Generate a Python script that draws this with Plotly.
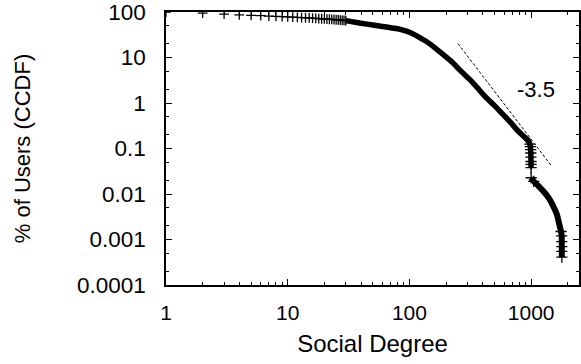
import plotly.graph_objects as go

# ---- data (degree, % of users CCDF) ----
head_deg = list(range(1, 31))
head_ccdf = [100, 95, 90, 87, 85, 83.5, 82, 81, 80, 79,
             78, 77, 76, 75.2, 74.5, 73.8, 73, 72.3, 71.6, 71,
             70.4, 69.8, 69.2, 68.6, 68, 67.4, 66.8, 66.2, 65.6, 65]

body_deg = [30, 40, 50, 60, 70, 80, 90, 100, 110, 120, 135, 150, 164, 190, 225, 260,
            308, 360, 421, 500, 576, 680, 789, 880, 952, 975, 985, 990,
            993, 995, 997, 998, 999]
body_ccdf = [65, 57, 52, 48.5, 45.5, 43, 39.5, 36, 32, 28, 23.5, 19.3, 16, 11.6, 7.94, 5.3,
             3.44, 2.2, 1.37, 0.88, 0.593, 0.37, 0.237, 0.18, 0.144, 0.125, 0.11, 0.095,
             0.08, 0.065, 0.052, 0.045, 0.038]

tail_deg = [1000, 1050, 1100, 1150, 1250, 1388, 1500, 1622, 1700, 1760,
            1782, 1784, 1785, 1786, 1787]
tail_ccdf = [0.0228, 0.019, 0.0168, 0.015, 0.0118, 0.00835, 0.0058, 0.00363, 0.0022, 0.0015,
             0.0012, 0.0009, 0.0007, 0.00055, 0.00041]

fit_deg = [250, 1455]
fit_ccdf = [20.4, 0.043]
slope_label = "-3.5"

x_tick_vals = [1, 10, 100, 1000]
x_tick_text = ["1", "10", "100", "1000"]
y_tick_vals = [0.0001, 0.001, 0.01, 0.1, 1, 10, 100]
y_tick_text = ["0.0001", "0.001", "0.01", "0.1", "1", "10", "100"]

FONT = "Liberation Sans, Arial, Helvetica, sans-serif"

marker = dict(symbol="cross-thin", size=7, line=dict(color="black", width=1.3), color="black")

# points on the near-vertical drops, where the individual markers show
drop_deg = body_deg[-8:] + tail_deg[:2] + tail_deg[-6:]
drop_ccdf = body_ccdf[-8:] + tail_ccdf[:2] + tail_ccdf[-6:]

fig = go.Figure()
fig.add_trace(go.Scatter(x=head_deg, y=head_ccdf, mode="markers", marker=marker,
                         showlegend=False, hoverinfo="skip"))
fig.add_trace(go.Scatter(x=body_deg, y=body_ccdf, mode="lines",
                         line=dict(color="black", width=5.5, shape="spline", smoothing=0.6),
                         showlegend=False, hoverinfo="skip"))
fig.add_trace(go.Scatter(x=tail_deg, y=tail_ccdf, mode="lines",
                         line=dict(color="black", width=6, shape="spline", smoothing=0.6),
                         showlegend=False, hoverinfo="skip"))
fig.add_trace(go.Scatter(x=drop_deg, y=drop_ccdf, mode="markers",
                         marker=dict(symbol="cross-thin", size=8, line=dict(color="black", width=1.3)),
                         showlegend=False, hoverinfo="skip"))
fig.add_trace(go.Scatter(x=fit_deg, y=fit_ccdf, mode="lines",
                         line=dict(color="black", width=1, dash="3px,2px"),
                         showlegend=False, hoverinfo="skip"))

fig.add_annotation(x=3.04, y=0.29, xref="x", yref="y", text=slope_label, showarrow=False,
                   font=dict(family=FONT, size=22, color="black"))

x_minor = [m * 10 ** e for e in range(0, 4) for m in range(2, 10)]
y_minor = [m * 10 ** e for e in range(-4, 2) for m in (2, 5)]

fig.update_layout(
    width=581, height=364,
    margin=dict(l=166, r=0, t=9, b=79),
    paper_bgcolor="white", plot_bgcolor="white",
    font=dict(family=FONT, size=21, color="black"),
    xaxis=dict(type="log", range=[0, 3.393], tickvals=x_tick_vals, ticktext=x_tick_text,
               ticks="inside", ticklen=6, tickwidth=1, tickcolor="black",
               showline=True, linecolor="black", linewidth=1.5, mirror="ticks",
               showgrid=False, zeroline=False, ticklabelstandoff=8,
               ticklabeloverflow="allow", tickfont=dict(size=21),
               minor=dict(tickvals=x_minor, ticks="inside", ticklen=3, tickcolor="black", showgrid=False),
               title=dict(text="Social Degree", font=dict(size=24), standoff=12)),
    yaxis=dict(type="log", range=[-4, 2.003], tickvals=y_tick_vals, ticktext=y_tick_text,
               ticks="inside", ticklen=6, tickwidth=1, tickcolor="black",
               showline=True, linecolor="black", linewidth=1.5, mirror="ticks",
               showgrid=False, zeroline=False, ticklabelstandoff=14,
               ticklabeloverflow="allow", tickfont=dict(size=22.5),
               minor=dict(tickvals=y_minor, ticks="inside", ticklen=3, tickcolor="black", showgrid=False),
               title=dict(text="% of Users (CCDF)", font=dict(size=22), standoff=40)),
)

fig.write_html("out.html")
